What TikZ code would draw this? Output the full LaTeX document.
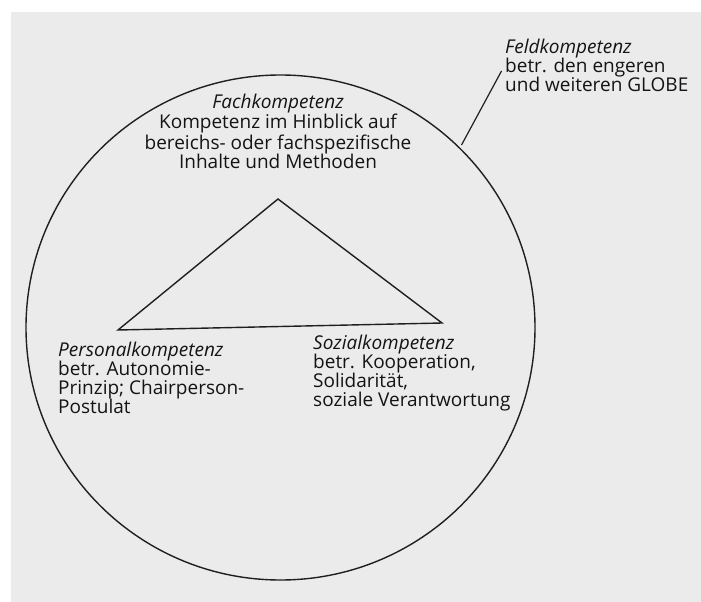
\documentclass[tikz,border=0pt]{standalone}
\usepackage{fontspec}
\setmainfont{Open Sans}
\begin{document}
\begin{tikzpicture}[x=1pt,y=-1pt,
  ink/.style={draw=black!88, line width=1.4pt},
  label/.style={inner sep=0pt, font=\fontsize{19}{19}\selectfont, text=black!92}]
% scanned page: white margin, grey paper
\useasboundingbox (0,0) rectangle (701,602);
\fill[white] (0,0) rectangle (701,602);
\fill[black!8] (11,12) rectangle (701,602);
% outer circle (field) and inner triangle
\draw[ink] (280.5,327.5) ellipse [x radius=254.5, y radius=252.5];
\coordinate (apex) at (278,199);
\coordinate (bl) at (118,330);
\coordinate (br) at (442,323);
\draw[ink, line join=miter] (apex) -- (br) -- (bl) -- cycle;
% texts (anchored at the baseline of the last line)
\node[label, anchor=base, align=center] (fach) at (278,168)
  {\textit{Fachkompetenz}\\Kompetenz im Hinblick auf\\bereichs- oder fachspezifische\\Inhalte und Methoden};
\node[label, anchor=base west, align=left] (feld) at (505,91)
  {\textit{Feldkompetenz}\\betr. den engeren\\und weiteren GLOBE};
\node[label, anchor=base west, align=left] (pers) at (58,413)
  {\textit{Personalkompetenz}\\betr. Autonomie-\\Prinzip; Chairperson-\\Postulat};
\node[label, anchor=base west, align=left] (sozi) at (313,406)
  {\textit{Sozialkompetenz}\\betr. Kooperation,\\Solidarität,\\soziale Verantwortung};
% leader from the circle to the field label
\coordinate (lead) at (501.5,71);
\coordinate (rim) at (461.5,145);
\draw[ink, line width=1.2pt] (rim) -- (lead);
\end{tikzpicture}
\end{document}
